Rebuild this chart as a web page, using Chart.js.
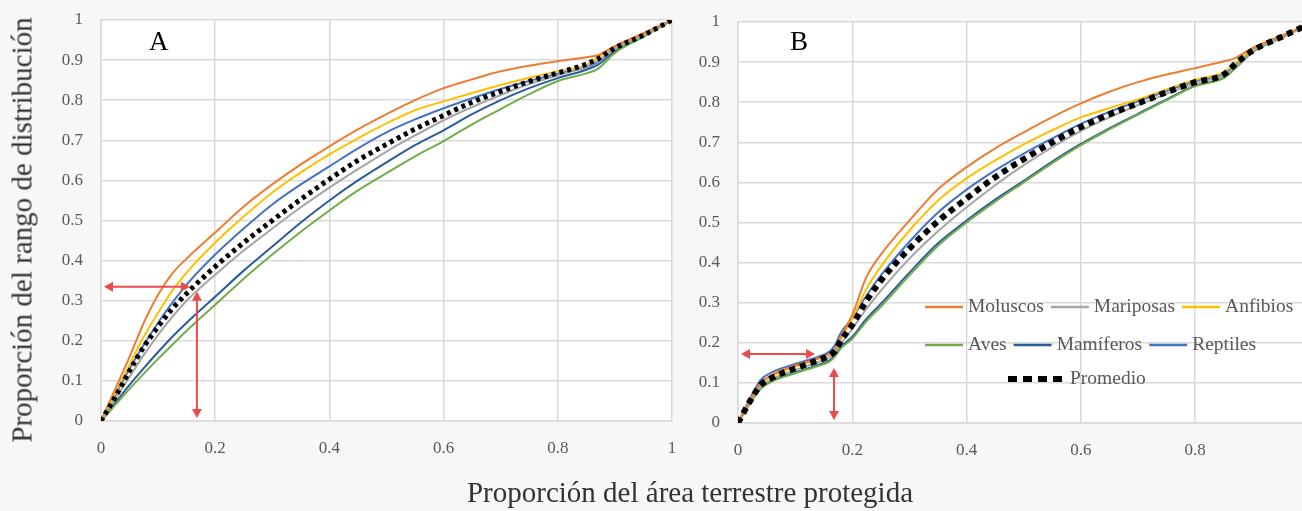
<!DOCTYPE html>
<html lang="es">
<head>
<meta charset="UTF-8">
<title>Proporción del rango de distribución frente al área protegida</title>
<script src="https://cdn.jsdelivr.net/npm/chart.js@4.4.0/dist/chart.umd.js"></script>
<style>
  html, body { margin: 0; padding: 0; background: #f7f7f7; overflow: hidden; }
  #wrap { position: relative; width: 1302px; height: 511px; }
  .panel { position: absolute; top: 0; height: 511px; }
  #boxA { left: 0; width: 690px; }
  #boxB { left: 690px; width: 612px; }
  .letter { position: absolute; top: 26px; font: 27px "Liberation Serif", serif; color: #000; }
  #xTitle { position: absolute; left: 0; width: 1380px; top: 476px; text-align: center;
            font: 29px "Liberation Serif", serif; color: #333; white-space: nowrap; }
  #yTitle { position: absolute; left: 22px; top: 230px; transform: translate(-50%, -50%) rotate(-90deg);
            font: 29px "Liberation Serif", serif; color: #333; white-space: nowrap; }
</style>
</head>
<body>
<div id="wrap">
  <div class="panel" id="boxA"><canvas id="chartA"></canvas></div>
  <div class="panel" id="boxB"><canvas id="chartB"></canvas></div>
  <div class="letter" style="left:149px">A</div>
  <div class="letter" style="left:790px">B</div>
  <div id="yTitle">Proporción del rango de distribución</div>
  <div id="xTitle">Proporción del área terrestre protegida</div>
</div>
<script>
// axis ticks
const yTicks = [0, 0.1, 0.2, 0.3, 0.4, 0.5, 0.6, 0.7, 0.8, 0.9, 1];
const xTicksA = [0, 0.2, 0.4, 0.6, 0.8, 1];
const xTicksB = [0, 0.2, 0.4, 0.6, 0.8];

// panel A: proportion of protected land area (x) vs proportion of range covered
const xA    = [0, 0.025, 0.05, 0.075, 0.1, 0.125, 0.15, 0.2, 0.25, 0.3, 0.35, 0.4, 0.45, 0.5, 0.55, 0.6, 0.65, 0.7, 0.75, 0.8, 0.85, 0.87, 0.9, 0.95, 1];
const molA  = [0, 0.08, 0.16, 0.245, 0.315, 0.368, 0.405, 0.47, 0.535, 0.59, 0.64, 0.685, 0.727, 0.765, 0.8, 0.83, 0.852, 0.872, 0.886, 0.897, 0.907, 0.912, 0.935, 0.967, 1];
const marA  = [0, 0.055, 0.11, 0.165, 0.215, 0.26, 0.3, 0.365, 0.425, 0.48, 0.533, 0.582, 0.628, 0.672, 0.712, 0.75, 0.783, 0.813, 0.84, 0.862, 0.884, 0.898, 0.928, 0.962, 1];
const anfA  = [0, 0.07, 0.14, 0.21, 0.27, 0.325, 0.37, 0.445, 0.51, 0.57, 0.62, 0.665, 0.705, 0.742, 0.775, 0.797, 0.818, 0.838, 0.856, 0.872, 0.888, 0.906, 0.933, 0.966, 1];
const aveA  = [0, 0.04, 0.08, 0.118, 0.155, 0.19, 0.225, 0.29, 0.355, 0.415, 0.472, 0.525, 0.575, 0.618, 0.66, 0.698, 0.74, 0.778, 0.815, 0.848, 0.867, 0.878, 0.918, 0.958, 1];
const mamA  = [0, 0.045, 0.09, 0.132, 0.172, 0.21, 0.245, 0.31, 0.375, 0.435, 0.495, 0.55, 0.6, 0.645, 0.688, 0.725, 0.765, 0.8, 0.83, 0.855, 0.876, 0.888, 0.922, 0.96, 1];
const repA  = [0, 0.065, 0.13, 0.19, 0.245, 0.295, 0.34, 0.415, 0.48, 0.54, 0.59, 0.635, 0.68, 0.72, 0.752, 0.78, 0.805, 0.828, 0.848, 0.866, 0.882, 0.895, 0.93, 0.963, 1];
const promA = [0, 0.06, 0.125, 0.185, 0.235, 0.28, 0.318, 0.385, 0.445, 0.5, 0.553, 0.603, 0.65, 0.69, 0.728, 0.762, 0.795, 0.822, 0.847, 0.868, 0.89, 0.903, 0.93, 0.962, 1];

// panel B
const xB    = [0, 0.02, 0.04, 0.06, 0.08, 0.1, 0.12, 0.14, 0.16, 0.17, 0.18, 0.2, 0.225, 0.25, 0.3, 0.35, 0.4, 0.45, 0.5, 0.55, 0.6, 0.65, 0.7, 0.75, 0.8, 0.85, 0.87, 0.9, 0.95, 1];
const molB  = [0, 0.054, 0.1, 0.12, 0.133, 0.143, 0.152, 0.161, 0.172, 0.185, 0.215, 0.27, 0.365, 0.42, 0.505, 0.583, 0.638, 0.685, 0.725, 0.763, 0.797, 0.826, 0.85, 0.869, 0.885, 0.902, 0.91, 0.935, 0.965, 0.995];
const marB  = [0, 0.05, 0.092, 0.11, 0.122, 0.132, 0.142, 0.152, 0.164, 0.176, 0.198, 0.235, 0.285, 0.33, 0.41, 0.478, 0.538, 0.593, 0.643, 0.688, 0.728, 0.762, 0.793, 0.821, 0.848, 0.867, 0.888, 0.927, 0.961, 0.995];
const anfB  = [0, 0.053, 0.098, 0.117, 0.13, 0.14, 0.15, 0.16, 0.171, 0.183, 0.21, 0.26, 0.335, 0.39, 0.48, 0.555, 0.61, 0.655, 0.695, 0.73, 0.762, 0.785, 0.807, 0.832, 0.856, 0.875, 0.897, 0.932, 0.964, 0.995];
const aveB  = [0, 0.047, 0.086, 0.104, 0.115, 0.124, 0.133, 0.142, 0.153, 0.166, 0.186, 0.21, 0.254, 0.29, 0.368, 0.442, 0.5, 0.552, 0.6, 0.648, 0.693, 0.732, 0.769, 0.805, 0.84, 0.86, 0.884, 0.925, 0.96, 0.995];
const mamB  = [0, 0.048, 0.088, 0.106, 0.117, 0.126, 0.135, 0.145, 0.156, 0.17, 0.19, 0.215, 0.26, 0.297, 0.375, 0.448, 0.505, 0.557, 0.604, 0.652, 0.696, 0.735, 0.771, 0.807, 0.841, 0.861, 0.885, 0.925, 0.96, 0.995];
const repB  = [0, 0.058, 0.108, 0.127, 0.138, 0.147, 0.156, 0.165, 0.178, 0.195, 0.225, 0.262, 0.318, 0.368, 0.452, 0.525, 0.582, 0.63, 0.672, 0.71, 0.746, 0.776, 0.802, 0.828, 0.853, 0.871, 0.893, 0.93, 0.963, 0.995];
const promB = [0, 0.052, 0.095, 0.113, 0.126, 0.136, 0.146, 0.156, 0.168, 0.18, 0.205, 0.245, 0.305, 0.355, 0.435, 0.503, 0.56, 0.613, 0.658, 0.7, 0.738, 0.77, 0.797, 0.825, 0.85, 0.869, 0.895, 0.928, 0.962, 0.995];

// point marked with red arrows (x = protected area, y = range covered)
const markA = [0.168, 0.335];
const markB = [0.168, 0.172];

const FONT = '"Liberation Serif", "DejaVu Serif", serif';
const TICK_COLOR = '#595959';
const GRID_COLOR = '#d9d9d9';
const ARROW_COLOR = '#ea4b4b';

const seriesStyle = [
  { label: 'Moluscos',  color: '#ED7D31' },
  { label: 'Mariposas', color: '#A5A5A5' },
  { label: 'Anfibios',  color: '#FFC000' },
  { label: 'Aves',      color: '#70AD47' },
  { label: 'Mamíferos', color: '#2A5C9A' },
  { label: 'Reptiles',  color: '#4472C4' },
  { label: 'Promedio',  color: '#000000' }
];

function makeDatasets(xs, cols, prom) {
  return seriesStyle.map((s, i) => {
    const avg = s.label === 'Promedio';
    return {
      label: s.label,
      data: xs.map((x, j) => ({ x: x, y: cols[i][j] })),
      borderColor: s.color,
      borderWidth: avg ? prom.width : 2,
      borderDash: avg ? prom.dash : [],
      borderCapStyle: 'butt',
      order: avg ? 0 : 1,
      pointRadius: 0,
      cubicInterpolationMode: 'monotone',
      fill: false
    };
  });
}

// white plot background
const plotBg = {
  id: 'plotBg',
  beforeDraw(chart) {
    const a = chart.chartArea, ctx = chart.ctx;
    ctx.save();
    ctx.fillStyle = '#ffffff';
    ctx.fillRect(a.left, a.top, a.right - a.left, a.bottom - a.top);
    ctx.restore();
  }
};

function arrowHead(ctx, x, y, dx, dy) {
  const len = 9, half = 5;
  ctx.beginPath();
  ctx.moveTo(x, y);
  ctx.lineTo(x - dx * len - dy * half, y - dy * len + dx * half);
  ctx.lineTo(x - dx * len + dy * half, y - dy * len - dx * half);
  ctx.closePath();
  ctx.fill();
}

function doubleArrow(ctx, x1, y1, x2, y2) {
  const L = Math.hypot(x2 - x1, y2 - y1), dx = (x2 - x1) / L, dy = (y2 - y1) / L;
  ctx.beginPath();
  ctx.moveTo(x1 + dx * 6, y1 + dy * 6);
  ctx.lineTo(x2 - dx * 6, y2 - dy * 6);
  ctx.stroke();
  arrowHead(ctx, x2, y2, dx, dy);
  arrowHead(ctx, x1, y1, -dx, -dy);
}

// red arrows from the marked point to both axes
const markArrows = {
  id: 'markArrows',
  afterDatasetsDraw(chart, args, opts) {
    const xs = chart.scales.x, ys = chart.scales.y, ctx = chart.ctx;
    const px = xs.getPixelForValue(opts.point[0]);
    const py = ys.getPixelForValue(opts.point[1]);
    ctx.save();
    ctx.strokeStyle = ARROW_COLOR;
    ctx.fillStyle = ARROW_COLOR;
    ctx.lineWidth = 2;
    doubleArrow(ctx, px - opts.gapX, py, xs.left + 3, py);
    doubleArrow(ctx, px, py + opts.gapY, px, ys.bottom - 3);
    ctx.restore();
  }
};

// legend drawn inside the plot of panel B
const legendRows = [
  ['Moluscos', 'Mariposas', 'Anfibios'],
  ['Aves', 'Mamíferos', 'Reptiles'],
  ['Promedio']
];
const innerLegend = {
  id: 'innerLegend',
  afterDraw(chart, args, opts) {
    if (!opts.rows) return;
    const ctx = chart.ctx, a = chart.chartArea;
    ctx.save();
    ctx.font = '19.5px ' + FONT;
    ctx.textBaseline = 'middle';
    opts.rows.forEach((row, r) => {
      let x = a.left + opts.starts[r];
      const y = a.top + opts.tops[r];
      row.forEach(name => {
        const ds = chart.data.datasets.find(d => d.label === name);
        const avg = name === 'Promedio';
        const len = avg ? 57 : 38;
        ctx.strokeStyle = ds.borderColor;
        ctx.lineWidth = avg ? 6 : 2.5;
        ctx.setLineDash(avg ? [9, 6] : []);
        ctx.beginPath();
        ctx.moveTo(x, y);
        ctx.lineTo(x + len, y);
        ctx.stroke();
        ctx.setLineDash([]);
        x += len + 5;
        ctx.fillStyle = TICK_COLOR;
        ctx.fillText(name, x, y);
        x += ctx.measureText(name).width + 7;
      });
    });
    ctx.restore();
  }
};

const tickLabel = v => String(Math.round(v * 10) / 10);

function makeChart(id, cfg) {
  return new Chart(document.getElementById(id), {
    type: 'line',
    data: { datasets: makeDatasets(cfg.xs, cfg.cols, cfg.prom) },
    plugins: [plotBg, markArrows, innerLegend],
    options: {
      responsive: true,
      maintainAspectRatio: false,
      animation: false,
      layout: { padding: cfg.padding },
      plugins: {
        legend: { display: false },
        tooltip: { enabled: false },
        markArrows: { point: cfg.mark, gapX: cfg.gapX, gapY: cfg.gapY },
        innerLegend: cfg.legend || {}
      },
      scales: {
        x: {
          type: 'linear', min: 0, max: cfg.xMax,
          afterBuildTicks: s => { s.ticks = cfg.xTicks.map(v => ({ value: v })); },
          // fixed axis band; layout padding alone sets the plot edges
          afterFit: s => { s.height = cfg.xHeight; s.paddingLeft = 0; s.paddingRight = 0; },
          grid: { color: GRID_COLOR, lineWidth: 1.5, drawTicks: false },
          border: { color: GRID_COLOR, width: 1.5 },
          ticks: { padding: 17, color: TICK_COLOR, font: { family: FONT, size: 17 }, callback: tickLabel }
        },
        y: {
          type: 'linear', min: 0, max: 1,
          afterBuildTicks: s => { s.ticks = yTicks.map(v => ({ value: v })); },
          afterFit: s => { s.width = cfg.yWidth; s.paddingTop = 0; s.paddingBottom = 0; },
          grid: { color: GRID_COLOR, lineWidth: 1.5, drawTicks: false },
          border: { color: GRID_COLOR, width: 1.5 },
          ticks: { padding: 18, color: TICK_COLOR, font: { family: FONT, size: 17 }, callback: tickLabel }
        }
      }
    }
  });
}

makeChart('chartA', {
  xs: xA, cols: [molA, marA, anfA, aveA, mamA, repA, promA],
  prom: { width: 5, dash: [4, 4] },
  xMax: 1, xTicks: xTicksA, xHeight: 90, yWidth: 101,
  padding: { top: 20, right: 18, bottom: 0, left: 0 },
  mark: markA, gapX: 7, gapY: 5
});

makeChart('chartB', {
  xs: xB, cols: [molB, marB, anfB, aveB, mamB, repB, promB],
  prom: { width: 6, dash: [6, 5] },
  xMax: 0.987, xTicks: xTicksB, xHeight: 88, yWidth: 48,
  padding: { top: 22, right: 0, bottom: 0, left: 0 },
  mark: markB, gapX: 19, gapY: 14,
  legend: { rows: legendRows, starts: [187, 187, 270], tops: [285, 323, 357] }
});
</script>
</body>
</html>
